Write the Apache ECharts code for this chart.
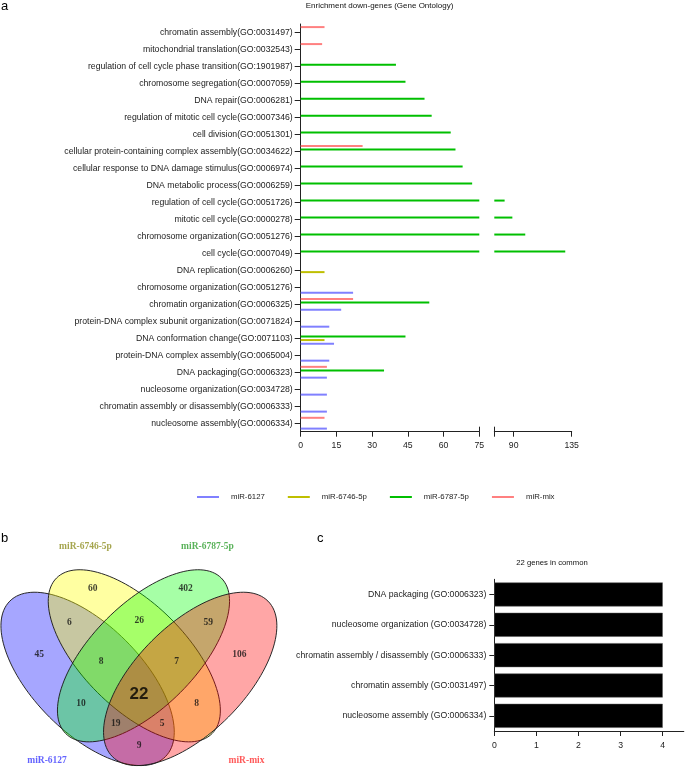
<!DOCTYPE html>
<html><head><meta charset="utf-8">
<script src="https://cdn.jsdelivr.net/npm/echarts@6/dist/echarts.min.js"></script>
<style>html,body{margin:0;padding:0;background:#fff}#chart{width:685px;height:768px}</style>
</head><body><div id="chart"></div>
<script>
// ---------- Panel a data ----------
const goTerms = [
  'chromatin assembly(GO:0031497)',
  'mitochondrial translation(GO:0032543)',
  'regulation of cell cycle phase transition(GO:1901987)',
  'chromosome segregation(GO:0007059)',
  'DNA repair(GO:0006281)',
  'regulation of mitotic cell cycle(GO:0007346)',
  'cell division(GO:0051301)',
  'cellular protein-containing complex assembly(GO:0034622)',
  'cellular response to DNA damage stimulus(GO:0006974)',
  'DNA metabolic process(GO:0006259)',
  'regulation of cell cycle(GO:0051726)',
  'mitotic cell cycle(GO:0000278)',
  'chromosome organization(GO:0051276)',
  'cell cycle(GO:0007049)',
  'DNA replication(GO:0006260)',
  'chromosome organization(GO:0051276)',
  'chromatin organization(GO:0006325)',
  'protein-DNA complex subunit organization(GO:0071824)',
  'DNA conformation change(GO:0071103)',
  'protein-DNA complex assembly(GO:0065004)',
  'DNA packaging(GO:0006323)',
  'nucleosome organization(GO:0034728)',
  'chromatin assembly or disassembly(GO:0006333)',
  'nucleosome assembly(GO:0006334)'
];
const seriesNames = ['miR-6127', 'miR-6746-5p', 'miR-6787-5p', 'miR-mix'];
const vals6127 = [null,null,null,null,null,null,null,null,null,null,null,null,null,null,null,22,17,12,14,12,11,11,11,11];
const vals6746 = [null,null,null,null,null,null,null,null,null,null,null,null,null,null,10,null,null,null,10,null,null,null,null,null];
const vals6787 = [null,null,40,44,52,55,63,65,68,72,83,89,99,130,null,null,54,null,44,null,35,null,null,null];
const valsMix  = [10,9,null,null,null,null,null,26,null,null,null,null,null,null,null,null,22,null,null,null,11,null,null,10];
const xTicksLow = [0, 15, 30, 45, 60, 75];
const xTicksHigh = [90, 135];
const chartTitle = 'Enrichment down-genes (Gene Ontology)';

// ---------- Panel c data ----------
const commonTerms = [
  'DNA packaging (GO:0006323)',
  'nucleosome organization (GO:0034728)',
  'chromatin assembly / disassembly (GO:0006333)',
  'chromatin assembly (GO:0031497)',
  'nucleosome assembly (GO:0006334)'
];
const commonCounts = [4, 4, 4, 4, 4];
const commonTicks = [0, 1, 2, 3, 4];
const commonTitle = '22 genes in common';

// ---------- Panel b data ----------
const vennSets = ['miR-6127', 'miR-6746-5p', 'miR-6787-5p', 'miR-mix'];
const vennRegions = ['A','B','C','D','AB','BC','CD','AD','ABC','BCD','AC','BD','ACD','ABD','ABCD'];
const vennCounts  = [45, 60, 402, 106, 6, 26, 59, 9, 8, 7, 10, 8, 19, 5, 22];

// ---------- layout / style (not data) ----------
const colBlue = '#8080ff', colOlive = '#bfbf00', colGreen = '#00bf00', colPink = '#ff8080';
const FONT = '"Liberation Sans", Arial, sans-serif';
const SERIF = '"Liberation Serif", "Times New Roman", serif';
// ellipse layout in panel-b units (1 unit = 1 px)
const vennShapes = [
  {cx: 87.6, cy: 678.9, a: 110, b: 54, rot: -45},
  {cx: 134.3, cy: 655.8, a: 110, b: 52, rot: -45},
  {cx: 143.5, cy: 655.8, a: 110, b: 52, rot: 45},
  {cx: 190.2, cy: 678.9, a: 110, b: 54, rot: 45}
];
const vennFill = ['rgba(0,0,255,0.35)', 'rgba(255,255,0,0.37)', 'rgba(0,255,0,0.35)', 'rgba(255,0,0,0.35)'];
const vennLabelPos = [
  [39.3,654.3],[92.7,588.3],[185.7,588.3],[239.3,654.3],
  [69.3,622.7],[139.3,620.5],[208.3,622.7],[139.2,745.7],
  [101,661.3],[176.7,661.3],[81,703.6],[196.7,703.6],
  [115.7,723.6],[162,723.6],[139,694]
];
const vennSetLabelPos = [[47,761],[85.5,546.7],[207.5,546.7],[246.5,761]];
const vennSetColors = ['#3b3bff', '#8f8f22', '#2f9f2f', '#ff3030'];

const barCommon = {type: 'bar', barWidth: 2, barGap: '80%', clip: true, silent: true};
function barSeries(xIdx, yIdx) {
  // order inside each group, top to bottom: mix, 6787, 6746, 6127
  return [
    [seriesNames[3], valsMix, colPink],
    [seriesNames[2], vals6787, colGreen],
    [seriesNames[1], vals6746, colOlive],
    [seriesNames[0], vals6127, colBlue]
  ].map(([n, d, c]) => Object.assign({}, barCommon, {
    name: n, data: d, xAxisIndex: xIdx, yAxisIndex: yIdx, itemStyle: {color: c}
  }));
}

const axisLineStyle = {color: '#222', width: 1};
const labelStyle = {fontFamily: FONT, fontSize: 8.7, color: '#222'};

const option = {
  animation: false,
  backgroundColor: '#ffffff',
  textStyle: {fontFamily: FONT},
  grid: [
    {left: 300.7, top: 24, width: 178.6, height: 407.7, outerBoundsMode: 'none'},
    {left: 494.3, top: 24, width: 77.4, height: 407.7, outerBoundsMode: 'none'},
    {left: 494.3, top: 579.3, width: 189.5, height: 151.7, outerBoundsMode: 'none'},
    {left: 0, top: 520, width: 285, height: 248, outerBoundsMode: 'none'}
  ],
  xAxis: [
    {gridIndex: 0, type: 'value', min: 0, max: 75, interval: 15, position: 'bottom',
     axisLine: {show: true, lineStyle: axisLineStyle},
     axisTick: {show: true, length: 5, lineStyle: axisLineStyle, customValues: xTicksLow},
     axisLabel: Object.assign({margin: 9.5, customValues: xTicksLow}, labelStyle),
     splitLine: {show: false}},
    {gridIndex: 0, type: 'value', min: 0, max: 75, position: 'bottom',
     axisLine: {show: false},
     axisTick: {show: true, inside: true, length: 5, lineStyle: axisLineStyle, customValues: [75]},
     axisLabel: {show: false}, splitLine: {show: false}},
    {gridIndex: 1, type: 'value', min: 75, max: 135, position: 'bottom',
     axisLine: {show: true, lineStyle: axisLineStyle},
     axisTick: {show: true, length: 5, lineStyle: axisLineStyle, customValues: [75].concat(xTicksHigh)},
     axisLabel: Object.assign({margin: 9.5, customValues: xTicksHigh}, labelStyle),
     splitLine: {show: false}},
    {gridIndex: 1, type: 'value', min: 75, max: 135, position: 'bottom',
     axisLine: {show: false},
     axisTick: {show: true, inside: true, length: 5, lineStyle: axisLineStyle, customValues: [75]},
     axisLabel: {show: false}, splitLine: {show: false}},
    {gridIndex: 2, type: 'value', min: 0, max: 4.5, position: 'bottom',
     axisLine: {show: true, lineStyle: axisLineStyle},
     axisTick: {show: true, length: 5, lineStyle: axisLineStyle, customValues: commonTicks},
     axisLabel: Object.assign({margin: 10, customValues: commonTicks}, labelStyle),
     splitLine: {show: false}},
    {gridIndex: 3, type: 'value', min: 0, max: 285, show: false}
  ],
  yAxis: [
    {gridIndex: 0, type: 'category', data: goTerms, inverse: true,
     axisLine: {show: true, lineStyle: axisLineStyle},
     axisTick: {show: true, alignWithLabel: true, length: 6, lineStyle: axisLineStyle},
     axisLabel: Object.assign({margin: 8, interval: 0}, labelStyle)},
    {gridIndex: 1, type: 'category', data: goTerms, inverse: true, show: false},
    {gridIndex: 2, type: 'category', data: commonTerms, inverse: true,
     axisLine: {show: true, lineStyle: axisLineStyle},
     axisTick: {show: true, alignWithLabel: true, length: 5, lineStyle: axisLineStyle},
     axisLabel: Object.assign({margin: 8, interval: 0}, labelStyle)},
    {gridIndex: 3, type: 'value', min: 520, max: 768, inverse: true, show: false}
  ],
  legend: {
    left: 192, top: 488, itemWidth: 22, itemHeight: 2, itemGap: 23, icon: 'rect',
    data: seriesNames,
    textStyle: {fontFamily: FONT, fontSize: 7.8, color: '#222', padding: [0, 0, 0, 7]}
  },
  series: [].concat(
    barSeries(0, 0),
    barSeries(2, 1),
    [{
      type: 'bar', name: 'common', xAxisIndex: 4, yAxisIndex: 2, data: commonCounts,
      barCategoryGap: '21%', itemStyle: {color: '#000', borderColor: '#555', borderWidth: 0.5}, silent: true
    },
    {
      type: 'custom', name: 'venn', xAxisIndex: 5, yAxisIndex: 3, silent: true,
      data: vennShapes.map(e => [e.cx, e.cy]),
      renderItem: function (params, api) {
        const e = vennShapes[params.dataIndex];
        const c = api.coord([e.cx, e.cy]);
        const s = api.size([1, 1]);
        return {
          type: 'ellipse', x: c[0], y: c[1], rotation: e.rot * Math.PI / 180,
          shape: {cx: 0, cy: 0, rx: e.a * s[0], ry: e.b * s[0]},
          style: {fill: vennFill[params.dataIndex], stroke: '#1e1e1e', lineWidth: 0.9}
        };
      }
    },
    {
      type: 'scatter', name: 'vennCounts', xAxisIndex: 5, yAxisIndex: 3, silent: true,
      symbolSize: 1, itemStyle: {color: 'rgba(0,0,0,0)'},
      label: {show: true, position: 'inside', formatter: p => String(p.value[2]),
              fontFamily: SERIF, fontWeight: 'bold', fontSize: 9.5, color: '#111'},
      data: vennCounts.map((c, i) => {
        const item = {value: [vennLabelPos[i][0], vennLabelPos[i][1], c]};
        if (vennRegions[i] === 'ABCD') item.label = {fontFamily: FONT, fontSize: 17, fontWeight: 'bold', color: '#000'};
        return item;
      })
    },
    {
      type: 'scatter', name: 'vennSets', xAxisIndex: 5, yAxisIndex: 3, silent: true,
      symbolSize: 1, itemStyle: {color: 'rgba(0,0,0,0)'},
      label: {show: true, position: 'inside', formatter: p => p.name,
              fontFamily: SERIF, fontWeight: 'bold', fontSize: 9.5},
      data: vennSets.map((n, i) => ({name: n, value: vennSetLabelPos[i], label: {color: vennSetColors[i]}}))
    }]
  ),
  graphic: [
    {type: 'text', x: 1, y: 6, style: {text: 'a', font: '13px ' + FONT, fill: '#000', verticalAlign: 'middle', textVerticalAlign: 'middle'}},
    {type: 'text', x: 1, y: 538, style: {text: 'b', font: '13px ' + FONT, fill: '#000', verticalAlign: 'middle', textVerticalAlign: 'middle'}},
    {type: 'text', x: 317, y: 538, style: {text: 'c', font: '13px ' + FONT, fill: '#000', verticalAlign: 'middle', textVerticalAlign: 'middle'}},
    {type: 'text', x: 379.5, y: 6, style: {text: chartTitle, font: '8px ' + FONT, fill: '#111', align: 'center', textAlign: 'center', verticalAlign: 'middle', textVerticalAlign: 'middle'}},
    {type: 'text', x: 552, y: 562.7, style: {text: commonTitle, font: '7.7px ' + FONT, fill: '#111', align: 'center', textAlign: 'center', verticalAlign: 'middle', textVerticalAlign: 'middle'}}
  ]
};

const chart = echarts.init(document.getElementById('chart'), null, {renderer: 'canvas', width: 685, height: 768});
chart.setOption(option);
</script>
</body></html>
